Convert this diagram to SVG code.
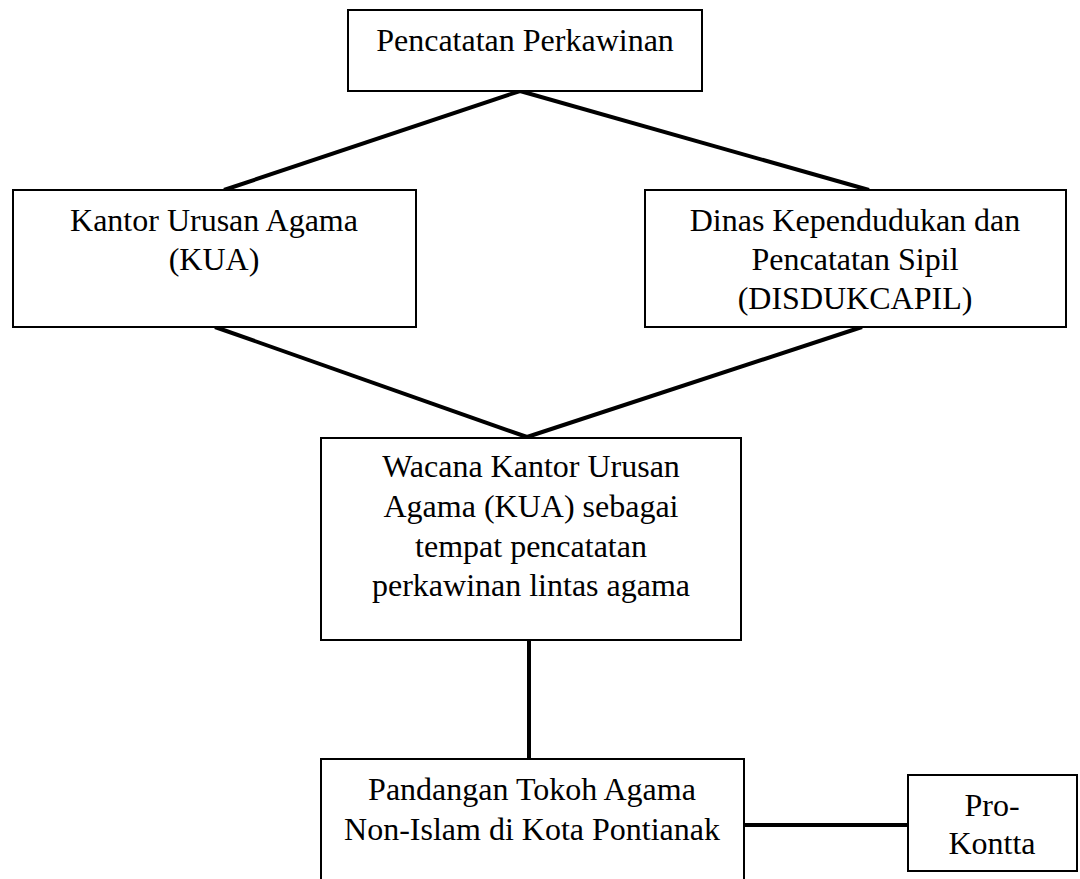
<svg xmlns="http://www.w3.org/2000/svg" width="1080" height="879" viewBox="0 0 1080 879">
<style>
.box{fill:#fff;stroke:#000;stroke-width:2}
.t{font-family:"Liberation Serif","Times New Roman",serif;font-size:32px;fill:#000;text-anchor:middle}
.c{stroke:#000;stroke-width:4;fill:none}
</style>
<rect width="1080" height="879" fill="#fff"/>
<g id="connectors">
<line class="c" x1="520" y1="91" x2="224" y2="190"/>
<line class="c" x1="520" y1="91" x2="869" y2="190"/>
<line class="c" x1="215" y1="327" x2="527" y2="437"/>
<line class="c" x1="862" y1="327" x2="527" y2="437"/>
<line class="c" x1="529" y1="640" x2="529" y2="759"/>
<line class="c" x1="744" y1="825" x2="908" y2="825"/>
</g>
<g id="pencatatan">
<rect class="box" x="348" y="10" width="354" height="81"/>
<text class="t" x="525" y="51">Pencatatan Perkawinan</text>
</g>
<g id="kua">
<rect class="box" x="13" y="190" width="403" height="137"/>
<text class="t" x="214" y="231">Kantor Urusan Agama</text>
<text class="t" x="214" y="270">(KUA)</text>
</g>
<g id="disdukcapil">
<rect class="box" x="645" y="190" width="421" height="137"/>
<text class="t" x="855" y="231">Dinas Kependudukan dan</text>
<text class="t" x="855" y="270">Pencatatan Sipil</text>
<text class="t" x="855" y="309">(DISDUKCAPIL)</text>
</g>
<g id="wacana">
<rect class="box" x="321" y="438" width="420" height="202"/>
<text class="t" x="531" y="477">Wacana Kantor Urusan</text>
<text class="t" x="531" y="517">Agama (KUA) sebagai</text>
<text class="t" x="531" y="557">tempat pencatatan</text>
<text class="t" x="531" y="596">perkawinan lintas agama</text>
</g>
<g id="pandangan">
<rect class="box" x="321" y="759" width="423" height="140"/>
<text class="t" x="532" y="800">Pandangan Tokoh Agama</text>
<text class="t" x="532" y="840">Non-Islam di Kota Pontianak</text>
</g>
<g id="prokontta">
<rect class="box" x="908" y="775" width="169" height="96"/>
<text class="t" x="992" y="816">Pro-</text>
<text class="t" x="992" y="854">Kontta</text>
</g>
</svg>
